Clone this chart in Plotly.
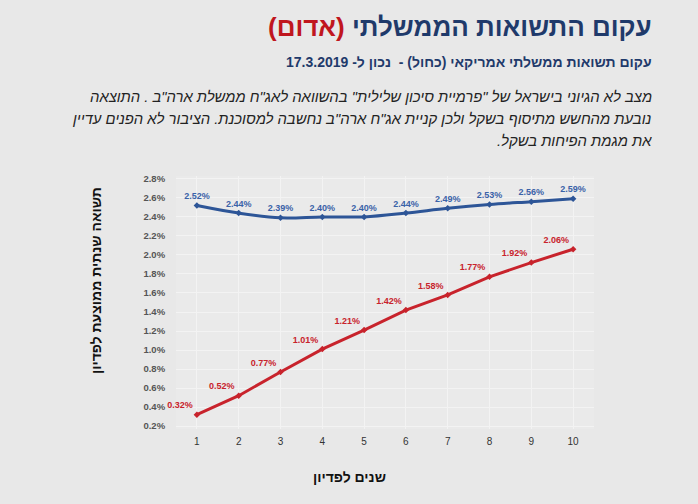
import plotly.graph_objects as go

years = [1, 2, 3, 4, 5, 6, 7, 8, 9, 10]
israel_yield = [0.32, 0.52, 0.77, 1.01, 1.21, 1.42, 1.58, 1.77, 1.92, 2.06]
us_yield = [2.52, 2.44, 2.39, 2.40, 2.40, 2.44, 2.49, 2.53, 2.56, 2.59]
y_ticks = [0.2, 0.4, 0.6, 0.8, 1.0, 1.2, 1.4, 1.6, 1.8, 2.0, 2.2, 2.4, 2.6, 2.8]

RLE, PDF = "\u202B", "\u202C"
FONT = "Liberation Sans, DejaVu Sans, Arial, sans-serif"
BLUE = "#2d5597"
RED = "#c8232c"
NAVY = "#1f3a6b"
BG = "#e8e8e8"

L, R, T, B = 176, 594, 176, 429


def px(x):
    return (x - L) / (R - L)


def py(y):
    return (B - y) / (B - T)


fig = go.Figure()
fig.add_trace(go.Scatter(
    x=years, y=us_yield, mode="lines+markers+text",
    line=dict(color=BLUE, width=3, shape="spline"),
    marker=dict(color=BLUE, size=5, symbol="diamond"),
    text=[f"<b>{v:.2f}%</b>" for v in us_yield], textposition="top center",
    textfont=dict(color="#3a62a8", size=9, family=FONT),
    showlegend=False, cliponaxis=False))
fig.add_trace(go.Scatter(
    x=years, y=israel_yield, mode="lines+markers+text",
    line=dict(color=RED, width=3),
    marker=dict(color=RED, size=5, symbol="diamond"),
    text=[f"<b>{v:.2f}%</b>" for v in israel_yield], textposition="top left",
    textfont=dict(color=RED, size=9, family=FONT),
    showlegend=False, cliponaxis=False))

fig.update_xaxes(range=[0.5, 10.5], tickvals=years, showgrid=True, gridcolor="#f3f3f3",
                 zeroline=False, automargin=False,
                 ticks="outside", ticklen=3, tickcolor="rgba(0,0,0,0)",
                 tickfont=dict(size=10, color="#333", family=FONT))
fig.update_yaxes(range=[0.17, 2.83], tickvals=y_ticks,
                 ticktext=[f"<b>{v:.1f}%</b>" for v in y_ticks], showgrid=True, gridcolor="#f3f3f3",
                 zeroline=False, automargin=False,
                 ticks="outside", ticklen=8, tickcolor="rgba(0,0,0,0)",
                 tickfont=dict(size=9.5, color="#555", family=FONT))

# axis titles (placed as annotations to match reference offsets)
fig.add_annotation(text="<b>" + RLE + "שנים לפדיון" + PDF + "</b>", xref="paper", yref="paper",
                   x=px(349), y=py(477), xanchor="center", yanchor="middle", showarrow=False,
                   font=dict(size=14, color="#111", family=FONT))
fig.add_annotation(text="<b>" + RLE + "תשואה שנתית ממוצעת לפדיון" + PDF + "</b>", xref="paper",
                   yref="paper", x=px(96), y=py(281), xanchor="center", yanchor="middle",
                   textangle=-90, showarrow=False, font=dict(size=14, color="#111", family=FONT))

anns = [
    dict(text="<b>" + RLE + "עקום התשואות הממשלתי <span style='color:#c0161e'>(אדום)</span>" + PDF + "</b>",
         y=27, size=26, color=NAVY, italic=False),
    dict(text="<b>" + RLE + "עקום תשואות ממשלתי אמריקאי (כחול) -  נכון ל- 17.3.2019" + PDF + "</b>",
         y=62, size=14, color=NAVY, italic=False),
    dict(text=RLE + "מצב לא הגיוני בישראל של \"פרמיית סיכון שלילית\" בהשוואה לאג\"ח ממשלת ארה\"ב . התוצאה" + PDF,
         y=97, size=14.8, color="#222", italic=True),
    dict(text=RLE + "נובעת מהחשש מתיסוף בשקל ולכן קניית אג\"ח ארה\"ב נחשבה למסוכנת. הציבור לא הפנים עדיין" + PDF,
         y=119, size=14.8, color="#222", italic=True),
    dict(text=RLE + "את מגמת הפיחות בשקל." + PDF,
         y=141, size=14.8, color="#222", italic=True),
]
for a in anns:
    t = a["text"]
    if a["italic"]:
        t = "<i>" + t + "</i>"
    fig.add_annotation(text=t, xref="paper", yref="paper", x=px(654),
                       y=py(a["y"]), xanchor="right", yanchor="middle",
                       showarrow=False, font=dict(size=a["size"], color=a["color"], family=FONT))

fig.update_layout(
    width=698, height=504,
    margin=dict(l=L, r=698 - R, t=T, b=504 - B),
    paper_bgcolor=BG, plot_bgcolor="#eaeaea",
    font=dict(family=FONT),
)
fig.write_html("out.html", config={"displayModeBar": False},
               post_script="document.body.style.margin='0';document.body.style.background='" + BG + "';")
